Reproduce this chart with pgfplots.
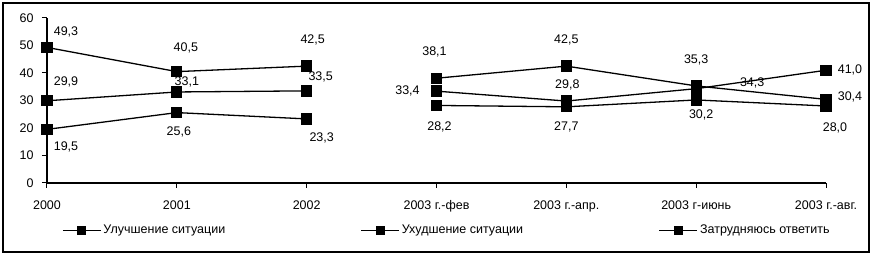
\documentclass[border=0pt]{standalone}
\usepackage{pgfplots}
\pgfplotsset{compat=1.18}
\usepackage{fontspec}
\setmainfont{Liberation Sans}
\begin{document}
\fontsize{12.5bp}{15bp}\selectfont
\begin{tikzpicture}
\pgfplotsset{ser/.style={black, line width=1.3bp, mark=square*, mark size=5bp, mark options={solid}}}
\begin{axis}[
  scale only axis, width=779bp, height=165bp,
  xmin=0, xmax=6, ymin=0, ymax=60,
  axis x line=bottom, axis y line=left,
  axis line style={-, line width=1.3bp},
  xtick={0,...,6},
  xticklabels={2000,2001,2002,{2003 г.-фев},{2003 г.-апр.},{2003 г-июнь},{2003 г.-авг.}},
  ytick={0,10,...,60},
  tick align=outside, major tick length=5bp,
  tick style={black, line width=1bp},
  xticklabel style={yshift=-8bp, text height=9.5bp, text depth=3bp},
  yticklabel style={xshift=-4bp},
  /pgf/number format/assume math mode=true,
  clip=false,
  legend columns=3,
  legend style={draw=none, fill=none, at={(0,0)}, anchor=north west, xshift=15bp, yshift=-40bp,
    inner sep=0pt, nodes={inner sep=2bp},
    /tikz/every even column/.append style={column sep=0bp}},
  legend cell align=left,
  legend image code/.code={\draw[black, line width=1.3bp] (0bp,0bp) -- (38bp,0bp);
    \fill[black] (15bp,-4bp) rectangle (23bp,4bp);},
]
% Улучшение ситуации
\addplot[ser] coordinates {(0,19.5) (1,25.6) (2,23.3)};
\addlegendentry{\makebox[255bp][l]{Улучшение ситуации}}
% Ухудшение ситуации
\addplot[ser] coordinates {(0,49.3) (1,40.5) (2,42.5)};
\addlegendentry{\makebox[255bp][l]{Ухудшение ситуации}}
% Затрудняюсь ответить
\addplot[ser] coordinates {(0,29.9) (1,33.1) (2,33.5)};
\addlegendentry{Затрудняюсь ответить}
\addplot[ser, forget plot] coordinates {(3,28.2) (4,27.7) (5,30.2) (6,28.0)};
\addplot[ser, forget plot] coordinates {(3,38.1) (4,42.5) (5,35.3) (6,30.4)};
\addplot[ser, forget plot] coordinates {(3,33.4) (4,29.8) (5,34.3) (6,41.0)};
% data labels
\node[xshift=19bp,yshift=15bp] at (axis cs:0,49.3) {49,3};
\node[xshift=19bp,yshift=19bp] at (axis cs:0,29.9) {29,9};
\node[xshift=19bp,yshift=-18bp] at (axis cs:0,19.5) {19,5};
\node[xshift=9bp,yshift=24bp] at (axis cs:1,40.5) {40,5};
\node[xshift=10bp,yshift=10bp] at (axis cs:1,33.1) {33,1};
\node[xshift=2bp,yshift=-19bp] at (axis cs:1,25.6) {25,6};
\node[xshift=6bp,yshift=26bp] at (axis cs:2,42.5) {42,5};
\node[xshift=14bp,yshift=14bp] at (axis cs:2,33.5) {33,5};
\node[xshift=15bp,yshift=-19bp] at (axis cs:2,23.3) {23,3};
\node[xshift=-2bp,yshift=26bp] at (axis cs:3,38.1) {38,1};
\node[xshift=-29bp,yshift=0bp] at (axis cs:3,33.4) {33,4};
\node[xshift=3bp,yshift=-21bp] at (axis cs:3,28.2) {28,2};
\node[xshift=0bp,yshift=26bp] at (axis cs:4,42.5) {42,5};
\node[xshift=1bp,yshift=16bp] at (axis cs:4,29.8) {29,8};
\node[xshift=0bp,yshift=-20bp] at (axis cs:4,27.7) {27,7};
\node[xshift=0bp,yshift=26bp] at (axis cs:5,35.3) {35,3};
\node[xshift=56bp,yshift=6bp] at (axis cs:5,34.3) {34,3};
\node[xshift=5bp,yshift=-15bp] at (axis cs:5,30.2) {30,2};
\node[xshift=24bp,yshift=0bp] at (axis cs:6,41.0) {41,0};
\node[xshift=24bp,yshift=2bp] at (axis cs:6,30.4) {30,4};
\node[xshift=9bp,yshift=-22bp] at (axis cs:6,28.0) {28,0};
\end{axis}
\draw[line width=1.4bp] ([shift={(-44bp,-69bp)}]current axis.south west) rectangle ([shift={(43bp,15bp)}]current axis.north east);
\pgfresetboundingbox
\path ([shift={(-47bp,-74bp)}]current axis.south west) rectangle ([shift={(46bp,18bp)}]current axis.north east);
\end{tikzpicture}
\end{document}
